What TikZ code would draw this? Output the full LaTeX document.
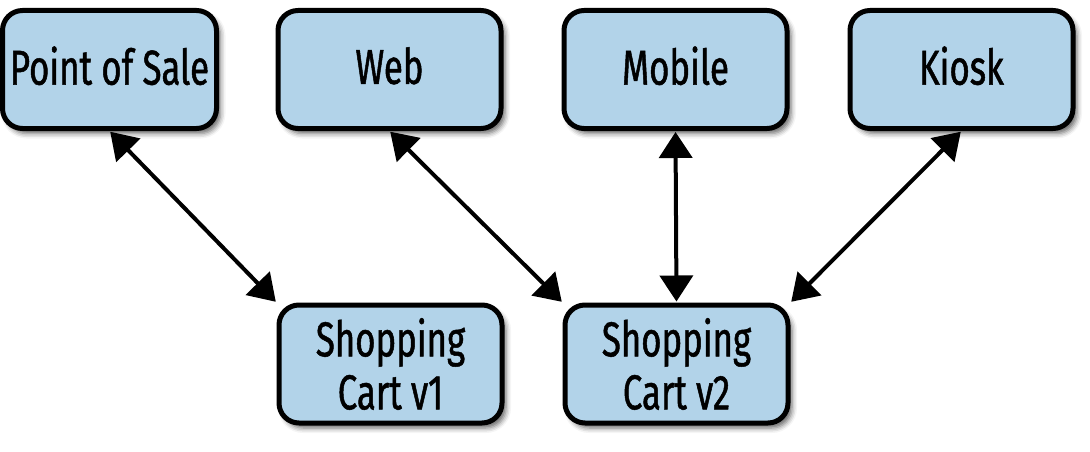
\documentclass[tikz,border=0pt]{standalone}
\usepackage{fontspec}
\setmainfont{Fira Sans}[FakeStretch=0.71,FakeBold=1]
\usetikzlibrary{arrows.meta,shadows.blur}
\definecolor{boxblue}{RGB}{178,211,233}
\tikzset{
  box/.style={draw=black, fill=boxblue, line width=5pt, rounded corners=20pt,
    minimum width=223pt, minimum height=118pt, align=center, inner sep=0pt,
    font=\fontsize{49}{53}\selectfont,
    blur shadow={shadow xshift=4pt, shadow yshift=-5pt, shadow blur radius=5pt, shadow opacity=60}},
  single/.style={text depth=8pt},
  link/.style={line width=4pt, {Triangle[length=26pt,width=33pt]}-{Triangle[length=26pt,width=33pt]}, shorten <=1pt, shorten >=1pt}
}
\begin{document}
\begin{tikzpicture}[x=1pt,y=-1pt]
\useasboundingbox (0,0) rectangle (1090,452);
\node[box, single, minimum width=214pt] (pos) at (109.5,69.5) {Point of Sale};
\node[box, single] (web) at (389.5,69.5) {Web};
\node[box, single] (mob) at (675.5,69.5) {Mobile};
\node[box, single] (kio) at (961.5,69.5) {Kiosk};
\node[box] (v1) at (390.5,364) {Shopping\\Cart v1};
\node[box] (v2) at (676.5,364) {Shopping\\Cart v2};
\draw[link] (pos.south) -- (v1.north west);
\draw[link] (web.south) -- (v2.north west);
\draw[link] (mob.south) -- (v2.north);
\draw[link] (kio.south) -- (v2.north east);
\end{tikzpicture}
\end{document}
